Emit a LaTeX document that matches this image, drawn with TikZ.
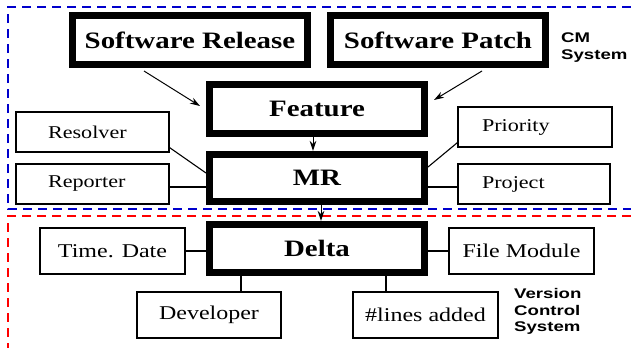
\documentclass[tikz,border=0pt]{standalone}
\usepackage{fontspec}
\setmainfont{Liberation Serif}[FakeStretch=1.23]
\newfontfamily\labfont{Liberation Sans}[FakeStretch=1.33]
\usetikzlibrary{arrows.meta,calc}
\begin{document}
\begin{tikzpicture}[x=1pt,y=-1pt,
  thickbox/.style={draw, line width=7pt, minimum width=215pt, minimum height=49pt, inner sep=0pt,
    font=\fontsize{23.5}{28}\selectfont\bfseries},
  thinbox/.style={draw, line width=1.2pt, inner sep=0pt, font=\fontsize{18}{22}\selectfont},
  lowbox/.style={thinbox, minimum width=145pt, minimum height=46pt, font=\fontsize{19.5}{23}\selectfont},
  conn/.style={line width=1.1pt},
  arr/.style={line width=1pt, -{Stealth[length=10pt,width=6.5pt]}},
  bluedash/.style={draw=blue!80!black, line width=1.3pt, dash pattern=on 9pt off 6pt},
  reddash/.style={draw=red, line width=1.3pt, dash pattern=on 9pt off 6pt},
  lab/.style={anchor=north west, inner sep=0pt, align=left,
    font=\labfont\fontsize{14}{16.7}\selectfont\bfseries}]
\fill[white] (0,0) rectangle (631,348);
\useasboundingbox (0,0) rectangle (631,348);

% dashed region borders
\draw[bluedash] (631,7) -- (8,7) -- (8,209) -- (631,209);
\draw[reddash] (631,216) -- (8,216) -- (8,348);

% main boxes
\node[thickbox, minimum width=235pt] (sr) at (190,40) {Software Release};
\node[thickbox] (sp) at (438,40) {Software Patch};
\node[thickbox] (feat) at (317,109) {Feature};
\node[thickbox, minimum height=47pt] (mr) at (317,178) {MR};
\node[thickbox, minimum height=48pt] (delta) at (317,248.5) {Delta};

% attribute boxes
\node[thinbox, minimum height=40pt, text width=89pt, inner xsep=32pt, align=left] (res) at (92.5,132) {Resolver};
\node[thinbox, minimum height=40pt, text width=89pt, inner xsep=32pt, align=left] (rep) at (92.5,184) {Reporter};
\node[thinbox, minimum height=40pt, text width=106pt, inner xsep=24pt, align=left] (pri) at (535,127) {Priority};
\node[thinbox, minimum height=40pt, text width=104pt, inner xsep=24pt, align=left] (proj) at (534,184) {Project};
\node[lowbox] (td) at (112.5,251) {Time. Date};
\node[lowbox] (fm) at (521.5,251) {File Module};
\node[lowbox, minimum width=144pt] (dev) at (209,315) {Developer};
\node[lowbox] (la) at (425.5,315) {\#lines added};

% labels
\node[lab] (cm) at (561,33) {CM\\System};
\node[lab] (vcs) at (514,288) {Version\\Control\\System};

% arrows
\draw[arr] ([xshift=-46pt,yshift=-3pt]sr.south) -- ([xshift=-6pt,yshift=3pt]feat.west);
\draw[arr] ([xshift=44pt,yshift=-3pt]sp.south) -- ([xshift=6pt,yshift=9pt]feat.east);
\draw[arr] ([xshift=-4pt]feat.south) -- ([xshift=-4pt]mr.north);
\draw[arr] ([xshift=4pt]mr.south) -- ([xshift=4pt]delta.north);

% attribute connectors
\draw[conn] ([yshift=5pt]res.south east) -- ([yshift=5pt]mr.west);
\draw[conn] ([yshift=-3pt]rep.east) -- ([yshift=-3pt]rep.east -| mr.west);
\draw[conn] ([yshift=5pt]pri.south west) -- ([yshift=11pt]mr.east);
\draw[conn] ([yshift=-3pt]proj.west) -- ([yshift=-3pt]proj.west -| mr.east);
\draw[conn] (td.east) -- (td.east -| delta.west);
\draw[conn] (fm.west) -- (fm.west -| delta.east);
\draw[conn] ([xshift=32pt]dev.north) -- ([xshift=32pt]dev.north |- delta.south);
\draw[conn] ([xshift=-39.5pt]la.north) -- ([xshift=-39.5pt]la.north |- delta.south);
\end{tikzpicture}
\end{document}
